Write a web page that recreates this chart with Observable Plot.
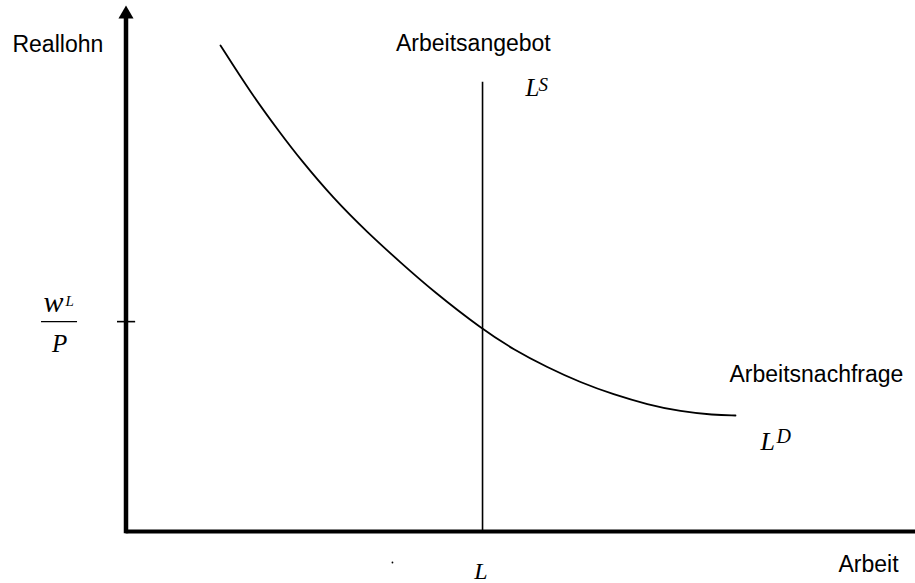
<!DOCTYPE html>
<html><head><meta charset="utf-8">
<script src="https://cdn.jsdelivr.net/npm/d3@7"></script>
<script src="https://cdn.jsdelivr.net/npm/@observablehq/plot@0.6"></script>
<style>body{margin:0;background:#fff;} svg{display:block;}</style>
</head><body><div id="chart"></div>
<script>
// Arbeitsnachfrage L^D (Arbeit, Reallohn)
const nachfrageArbeit = [11.97, 15.77, 19.57, 22.10, 26.28, 30.59, 34.77, 38.95, 45.16, 49.08, 53.39, 57.57, 61.75, 66.06, 70.24, 74.42, 77.20];
const nachfrageLohn   = [92.40, 83.46, 75.67, 70.72, 63.31, 56.84, 51.14, 45.63, 38.40, 34.60, 31.18, 28.33, 26.05, 24.14, 22.81, 22.15, 22.05];
// Arbeitsangebot L^S (vertikal)
const angebotL = 45.16;
const angebotTop = 85.4;
// Gleichgewichts-Reallohn w^L/P
const lohnW = 39.9;
// Achsen
const achseXmax = 100;
const achseYmax = 100;

const nachfrage = nachfrageArbeit.map((x, i) => ({x, y: nachfrageLohn[i]}));

const sans = "Liberation Sans, Arial, sans-serif";
const serif = "Liberation Serif, Times New Roman, serif";

const chart = Plot.plot({
  width: 915,
  height: 583,
  marginLeft: 125.5,
  marginRight: 0,
  marginTop: 5,
  marginBottom: 52,
  x: {domain: [0, achseXmax], axis: null},
  y: {domain: [0, achseYmax], axis: null},
  style: {background: "white", overflow: "visible"},
  marks: [
    // x-Achse
    Plot.ruleY([0], {stroke: "black", strokeWidth: 4}),
    // y-Achse
    Plot.ruleX([0], {y1: 0, y2: achseYmax - 2.5, stroke: "black", strokeWidth: 4.5, strokeLinecap: "square"}),
    Plot.dot([achseYmax], {x: 0, y: d => d, dy: 8.7, symbol: "triangle", r: 5.6, fill: "black", stroke: "none"}),
    // Tick w^L/P
    Plot.ruleY([lohnW], {x1: -1.08, x2: 1.22, stroke: "black", strokeWidth: 1.6}),
    // Bruchstrich
    Plot.ruleY([lohnW], {x1: -10.7, x2: -6.14, stroke: "black", strokeWidth: 1.4}),
    // Arbeitsangebot
    Plot.ruleX([angebotL], {y1: 0, y2: angebotTop, stroke: "black", strokeWidth: 1.6}),
    // Arbeitsnachfrage
    Plot.line(nachfrage, {x: "x", y: "y", curve: "basis", stroke: "black", strokeWidth: 1.8}),
    // Texte
    Plot.text(["Reallohn"], {x: -14.38, y: 91.25, text: d => d, textAnchor: "start", lineAnchor: "bottom", fontFamily: sans, fontSize: 23, fill: "black"}),
    Plot.text(["Arbeitsangebot"], {x: 34.2, y: 91.44, text: d => d, textAnchor: "start", lineAnchor: "bottom", fontFamily: sans, fontSize: 23, fill: "black"}),
    Plot.text(["Arbeitsnachfrage"], {x: 76.44, y: 28.33, text: d => d, textAnchor: "start", lineAnchor: "bottom", fontFamily: sans, fontSize: 23, fill: "black"}),
    Plot.text(["Arbeit"], {x: 90.25, y: -7.79, text: d => d, textAnchor: "start", lineAnchor: "bottom", fontFamily: sans, fontSize: 23, fill: "black"}),
    // L^S
    Plot.text(["L"], {x: 50.6, y: 82.7, text: d => d, textAnchor: "start", lineAnchor: "bottom", fontFamily: serif, fontStyle: "italic", fontSize: 25, fill: "black"}),
    Plot.text(["S"], {x: 52.25, y: 83.84, text: d => d, textAnchor: "start", lineAnchor: "bottom", fontFamily: serif, fontStyle: "italic", fontSize: 19, fill: "black"}),
    // L^D
    Plot.text(["L"], {x: 80.36, y: 15.4, text: d => d, textAnchor: "start", lineAnchor: "bottom", fontFamily: serif, fontStyle: "italic", fontSize: 26, fill: "black"}),
    Plot.text(["D"], {x: 82.4, y: 16.92, text: d => d, textAnchor: "start", lineAnchor: "bottom", fontFamily: serif, fontStyle: "italic", fontSize: 20, fill: "black"}),
    // L unter der Achse
    Plot.text(["L"], {x: angebotL, y: -8.95, dx: -1.5, text: d => d, textAnchor: "middle", lineAnchor: "bottom", fontFamily: serif, fontStyle: "italic", fontSize: 24, fill: "black"}),
    Plot.dot([0], {x: 33.75, y: -5.89, r: 0.9, fill: "black", stroke: "none"}),
    // w^L / P
    Plot.text(["w"], {x: -10.45, y: 41.73, text: d => d, textAnchor: "start", lineAnchor: "bottom", fontFamily: serif, fontStyle: "italic", fontSize: 30, fill: "black"}),
    Plot.text(["L"], {x: -7.66, y: 42.9, text: d => d, textAnchor: "start", lineAnchor: "bottom", fontFamily: serif, fontStyle: "italic", fontSize: 15, fill: "black"}),
    Plot.text(["P"], {x: -8.42, y: 34.2, text: d => d, textAnchor: "middle", lineAnchor: "bottom", fontFamily: serif, fontStyle: "italic", fontSize: 25, fill: "black"})
  ]
});
document.getElementById("chart").appendChild(chart);
</script>
</body></html>
